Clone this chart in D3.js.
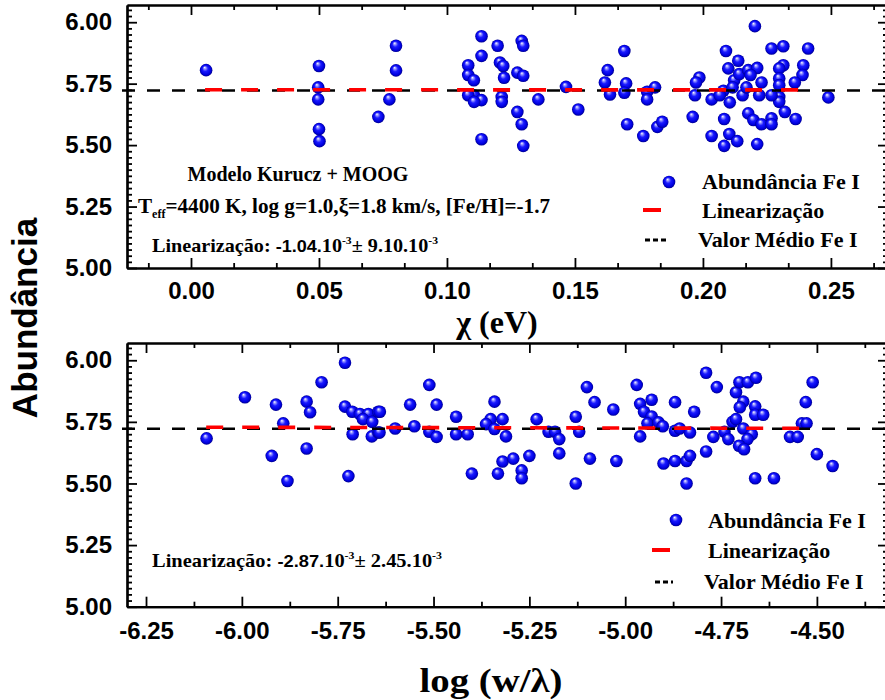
<!DOCTYPE html>
<html>
<head>
<meta charset="utf-8">
<script src="https://cdn.jsdelivr.net/npm/d3@7"></script>
<style>
  body { margin: 0; background: #fff; }
  svg { display: block; }
</style>
</head>
<body>
<svg id="chart" width="885" height="700"></svg>
<script>
// Fe I abundance vs excitation potential chi (eV)
const chiX = [0.0059, 0.0500, 0.0497, 0.0497, 0.0500, 0.0502, 0.0732, 0.0801, 0.0801, 0.0775,
  0.1135, 0.1135, 0.1083, 0.1083, 0.1105, 0.1105, 0.1083, 0.1135, 0.1106, 0.1135,
  0.1198, 0.1207, 0.1220, 0.1223, 0.1214, 0.1214, 0.1292, 0.1298, 0.1275, 0.1298,
  0.1275, 0.1292, 0.1298, 0.1357, 0.1465, 0.1513, 0.1628, 0.1617, 0.1637, 0.1693,
  0.1700, 0.1693, 0.1704, 0.1782, 0.1782, 0.1813, 0.1767, 0.1822, 0.1841, 0.1986,
  0.1973, 0.1969, 0.1960, 0.2034, 0.2034, 0.2090, 0.2099, 0.2138, 0.2122, 0.2142,
  0.2177, 0.2212, 0.2186, 0.2229, 0.2203, 0.2268, 0.2314, 0.2411, 0.2314, 0.2298,
  0.2392, 0.2389, 0.2298, 0.2359, 0.2298, 0.2298, 0.2298, 0.2268, 0.2220, 0.2155,
  0.2105, 0.2080, 0.2066, 0.2116, 0.2170, 0.2177, 0.2197, 0.2229, 0.2268, 0.2268,
  0.2320, 0.2362, 0.2083, 0.2103, 0.2083, 0.2134, 0.2212, 0.2490];
const chiAbund = [5.805, 5.822, 5.735, 5.686, 5.565, 5.516, 5.615, 5.904, 5.804, 5.686,
  5.943, 5.863, 5.825, 5.785, 5.764, 5.703, 5.703, 5.683, 5.676, 5.524,
  5.904, 5.836, 5.822, 5.774, 5.696, 5.676, 5.924, 5.904, 5.795, 5.782,
  5.635, 5.585, 5.497, 5.686, 5.737, 5.645, 5.805, 5.755, 5.706, 5.883,
  5.751, 5.713, 5.585, 5.717, 5.686, 5.735, 5.537, 5.574, 5.595, 5.775,
  5.755, 5.703, 5.615, 5.686, 5.537, 5.883, 5.812, 5.843, 5.764, 5.789,
  5.805, 5.814, 5.785, 5.755, 5.984, 5.893, 5.902, 5.893, 5.825, 5.812,
  5.825, 5.785, 5.771, 5.755, 5.744, 5.696, 5.676, 5.703, 5.703, 5.703,
  5.674, 5.721, 5.703, 5.735, 5.735, 5.629, 5.602, 5.585, 5.609, 5.585,
  5.635, 5.606, 5.606, 5.545, 5.497, 5.516, 5.504, 5.694];

// Fe I abundance vs reduced equivalent width log(W/lambda)
const logwX = [-6.092, -5.992, -5.911, -5.892, -5.922, -5.881, -5.831, -5.822, -5.831, -5.792,
  -5.731, -5.731, -5.712, -5.692, -5.670, -5.684, -5.660, -5.644, -5.711, -5.661,
  -5.644, -5.722, -5.640, -5.641, -5.600, -5.561, -5.550, -5.511, -5.492, -5.511,
  -5.492, -5.441, -5.441, -5.411, -5.400, -5.341, -5.351, -5.363, -5.320, -5.341,
  -5.311, -5.320, -5.292, -5.332, -5.270, -5.270, -5.250, -5.231, -5.200, -5.183,
  -5.172, -5.172, -5.129, -5.120, -5.129, -5.100, -5.080, -5.092, -5.031, -5.023,
  -4.970, -4.961, -4.951, -4.931, -4.931, -4.942, -4.913, -4.902, -4.961, -4.900,
  -4.870, -4.840, -4.831, -4.840, -4.870, -4.870, -4.858, -4.831, -4.820, -4.789,
  -4.761, -4.789, -4.770, -4.741, -4.731, -4.720, -4.711, -4.711, -4.702, -4.680,
  -4.659, -4.692, -4.701, -4.661, -4.661, -4.640, -4.692, -4.670, -4.681, -4.703,
  -4.690, -4.661, -4.612, -4.570, -4.550, -4.539, -4.527, -4.529, -4.511, -4.500,
  -4.459];
const logwAbund = [5.683, 5.850, 5.820, 5.744, 5.612, 5.510, 5.832, 5.789, 5.642, 5.911,
  5.990, 5.812, 5.791, 5.782, 5.782, 5.761, 5.750, 5.791, 5.700, 5.691,
  5.707, 5.530, 5.791, 5.707, 5.723, 5.820, 5.732, 5.900, 5.820, 5.710,
  5.689, 5.771, 5.700, 5.700, 5.540, 5.832, 5.761, 5.741, 5.761, 5.721,
  5.691, 5.589, 5.601, 5.540, 5.553, 5.521, 5.612, 5.761, 5.710, 5.710,
  5.680, 5.622, 5.771, 5.710, 5.500, 5.891, 5.830, 5.601, 5.800, 5.591,
  5.900, 5.823, 5.791, 5.840, 5.772, 5.744, 5.748, 5.732, 5.691, 5.581,
  5.591, 5.591, 5.612, 5.500, 5.830, 5.714, 5.723, 5.707, 5.791, 5.949,
  5.891, 5.630, 5.689, 5.710, 5.680, 5.750, 5.761, 5.870, 5.911, 5.911,
  5.929, 5.832, 5.809, 5.813, 5.779, 5.779, 5.723, 5.700, 5.680, 5.653,
  5.639, 5.521, 5.521, 5.689, 5.689, 5.744, 5.744, 5.830, 5.911, 5.619,
  5.571];

// Axis tick labels
const chiTicks = [0.00, 0.05, 0.10, 0.15, 0.20, 0.25];
const logwTicks = [-6.25, -6.00, -5.75, -5.50, -5.25, -5.00, -4.75, -4.50];
const abundTicks = [5.00, 5.25, 5.50, 5.75, 6.00];

// Mean Fe I abundance and linear fits (slope, intercept, fitted x-range)
const meanFeI = 5.722;
const fitChiSlope = -1.04e-3, fitChiIntercept = 5.725, fitChiRange = [0.0055, 0.241];
const fitLogwSlope = -2.87e-3, fitLogwIntercept = 5.7108, fitLogwRange = [-6.093, -4.53];

const svg = d3.select("#chart");
svg.append("rect").attr("width", 885).attr("height", 700).attr("fill", "#fff");

// Shaded sphere marker
const defs = svg.append("defs");
const grad = defs.append("radialGradient").attr("id", "ball")
  .attr("cx", "50%").attr("cy", "50%").attr("r", "50%")
  .attr("fx", "38%").attr("fy", "28%");
[[0, "#ffffff"], [0.18, "#9a9aff"], [0.45, "#1a1aff"], [0.8, "#0000e0"], [1, "#000090"]]
  .forEach(([o, c]) => grad.append("stop").attr("offset", o).attr("stop-color", c));

const SERIF = "'Liberation Serif','Times New Roman',serif";
const SANS = "'Liberation Sans',Arial,sans-serif";
const BALL_R = 6.3;

// two decimals, plain hyphen as minus sign
const fmt2 = v => d3.format(".2f")(v).replace("\u2212", "-");

function drawPanel(cfg) {
  const { xDomain, xRange, yRange, xTicks, xMinorStep, xs, ys, fit } = cfg;
  const x = d3.scaleLinear().domain(xDomain).range(xRange);
  const y = d3.scaleLinear().domain([5.0, 6.07]).range(yRange);
  const g = svg.append("g");

  // points
  g.append("g").selectAll("circle")
    .data(xs.map((v, i) => [v, ys[i]]))
    .join("circle")
    .attr("cx", d => x(d[0])).attr("cy", d => y(d[1]))
    .attr("r", BALL_R).attr("fill", "url(#ball)");

  // mean value line
  g.append("line")
    .attr("x1", x(xDomain[0]) - 5).attr("x2", x(xDomain[1]))
    .attr("y1", y(meanFeI)).attr("y2", y(meanFeI))
    .attr("stroke", "#000").attr("stroke-width", 2.6)
    .attr("stroke-dasharray", "13,12");

  // linear fit
  g.append("line")
    .attr("x1", x(fit.range[0])).attr("x2", x(fit.range[1]))
    .attr("y1", y(fit.intercept + fit.slope * fit.range[0]))
    .attr("y2", y(fit.intercept + fit.slope * fit.range[1]))
    .attr("stroke", "#ff0000").attr("stroke-width", 3.6)
    .attr("stroke-dasharray", "17,19");

  // minor tick positions
  const [x0, x1] = xDomain;
  const xMinor = d3.range(Math.ceil(x0 / xMinorStep), Math.floor(x1 / xMinorStep) + 1)
    .map(k => k * xMinorStep)
    .filter(v => !xTicks.some(t => Math.abs(t - v) < 1e-6));
  const yMinor = d3.range(0, 44).map(k => 5.0 + k * 0.025)
    .filter(v => v <= 6.07 && !abundTicks.some(t => Math.abs(t - v) < 1e-6));

  const yb = yRange[0], yt = yRange[1], xl = xRange[0], xr = xRange[1];

  function styleAxis(sel) {
    sel.select(".domain").attr("stroke", "#000").attr("stroke-width", 2.2);
    sel.selectAll(".tick line").attr("stroke", "#000").attr("stroke-width", 1.8);
    sel.selectAll("text").attr("font-family", SANS).attr("font-weight", "bold")
      .attr("font-size", 24).attr("fill", "#000");
  }

  // bottom axis
  g.append("g").attr("transform", `translate(0,${yb})`)
    .call(d3.axisBottom(x).tickValues(xTicks).tickSize(-10).tickSizeOuter(0)
      .tickPadding(cfg.xPad).tickFormat(fmt2)).call(styleAxis);
  g.append("g").attr("transform", `translate(0,${yb})`)
    .call(d3.axisBottom(x).tickValues(xMinor).tickSize(-5).tickSizeOuter(0).tickFormat(""))
    .call(styleAxis);
  // top axis
  g.append("g").attr("transform", `translate(0,${yt})`)
    .call(d3.axisTop(x).tickValues(xTicks).tickSize(-10).tickSizeOuter(0).tickFormat(""))
    .call(styleAxis);
  g.append("g").attr("transform", `translate(0,${yt})`)
    .call(d3.axisTop(x).tickValues(xMinor).tickSize(-5).tickSizeOuter(0).tickFormat(""))
    .call(styleAxis);
  // left axis
  g.append("g").attr("transform", `translate(${xl},0)`)
    .call(d3.axisLeft(y).tickValues(abundTicks).tickSize(-10).tickSizeOuter(0)
      .tickPadding(15).tickFormat(fmt2)).call(styleAxis);
  g.append("g").attr("transform", `translate(${xl},0)`)
    .call(d3.axisLeft(y).tickValues(yMinor).tickSize(-5).tickSizeOuter(0).tickFormat(""))
    .call(styleAxis);
  // right axis
  g.append("g").attr("transform", `translate(${xr},0)`)
    .call(d3.axisRight(y).tickValues(abundTicks).tickSize(-10).tickSizeOuter(0).tickFormat(""))
    .call(styleAxis);
  g.append("g").attr("transform", `translate(${xr},0)`)
    .call(d3.axisRight(y).tickValues(yMinor).tickSize(-5).tickSizeOuter(0).tickFormat(""))
    .call(styleAxis);

  return { x, y, g };
}

const chiPanel = drawPanel({
  xDomain: [-0.025, 0.2723], xRange: [127, 888], yRange: [268, 5],
  xTicks: chiTicks, xMinorStep: 0.05 / 3, xs: chiX, ys: chiAbund, xPad: 14,
  fit: { slope: fitChiSlope, intercept: fitChiIntercept, range: fitChiRange }
});
const logwPanel = drawPanel({
  xDomain: [-6.2996, -4.3145], xRange: [127, 888], yRange: [606.7, 343],
  xTicks: logwTicks, xMinorStep: 0.125, xs: logwX, ys: logwAbund, xPad: 15,
  fit: { slope: fitLogwSlope, intercept: fitLogwIntercept, range: fitLogwRange }
});

// ---- text helpers ----
function serifText(x, y, size, anchor) {
  return svg.append("text").attr("x", x).attr("y", y)
    .attr("font-family", SERIF).attr("font-weight", "bold")
    .attr("font-size", size).attr("text-anchor", anchor || "start").attr("fill", "#000");
}

// Model annotation (top panel)
serifText(298, 181, 20, "middle").text("Modelo Kurucz + MOOG");
{
  const t = serifText(138, 213, 21).attr("textLength", 412).attr("lengthAdjust", "spacingAndGlyphs");
  t.append("tspan").text("T");
  t.append("tspan").attr("font-size", 12).attr("dy", 5).text("eff");
  t.append("tspan").attr("dy", -5).text("=4400 K, log g=1.0,");
  t.append("tspan").text("\u03BE");
  t.append("tspan").text("=1.8 km/s, [Fe/H]=-1.7");
}

function fitLabel(x, y, width, slopeTxt, errTxt) {
  const t = serifText(x, y, 19).attr("textLength", width).attr("lengthAdjust", "spacingAndGlyphs");
  t.append("tspan").text("Lineariza\u00E7\u00E3o: ");
  t.append("tspan").attr("font-family", SANS).attr("font-size", 17).text(slopeTxt + ".");
  t.append("tspan").text("10");
  t.append("tspan").attr("font-size", 11).attr("dy", -8).text("-3");
  t.append("tspan").attr("dy", 8).text("\u00B1");
  t.append("tspan").text(" " + errTxt + ".10");
  t.append("tspan").attr("font-size", 11).attr("dy", -8).text("-3");
}
fitLabel(152, 252, 286, "-1.04", "9.10");
fitLabel(152, 567, 290, "-2.87", "2.45");

// Legends
function legend(ballX, ballY, textX, baselines, redX, blackX, rows) {
  svg.append("circle").attr("cx", ballX).attr("cy", ballY).attr("r", BALL_R)
    .attr("fill", "url(#ball)");
  svg.append("line").attr("x1", redX[0]).attr("x2", redX[1])
    .attr("y1", rows[1]).attr("y2", rows[1])
    .attr("stroke", "#ff0000").attr("stroke-width", 4);
  svg.append("line").attr("x1", blackX[0]).attr("x2", blackX[1])
    .attr("y1", rows[2]).attr("y2", rows[2])
    .attr("stroke", "#000").attr("stroke-width", 3).attr("stroke-dasharray", "5,3");
  serifText(textX, baselines[0], 22).text("Abund\u00E2ncia Fe I");
  serifText(textX, baselines[1], 22).text("Lineariza\u00E7\u00E3o");
  serifText(textX - 4, baselines[2], 22).text("Valor M\u00E9dio Fe I");
}
legend(669, 182, 702, [189, 218, 247], [643, 661], [645, 667], [182, 210, 240]);
legend(676, 520, 708, [528, 558, 589], [652, 670], [655, 673], [520, 550, 582]);

// Axis titles
serifText(497, 333, 32, "middle").text("\u03C7 (eV)");
serifText(491, 692, 34, "middle").attr("textLength", 143).attr("lengthAdjust", "spacingAndGlyphs")
  .text("log (w/\u03BB)");
svg.append("text")
  .attr("transform", "translate(37,318) rotate(-90)")
  .attr("text-anchor", "middle")
  .attr("font-family", SANS).attr("font-weight", "bold").attr("font-size", 35)
  .attr("fill", "#000").text("Abund\u00E2ncia");
</script>
</body>
</html>
